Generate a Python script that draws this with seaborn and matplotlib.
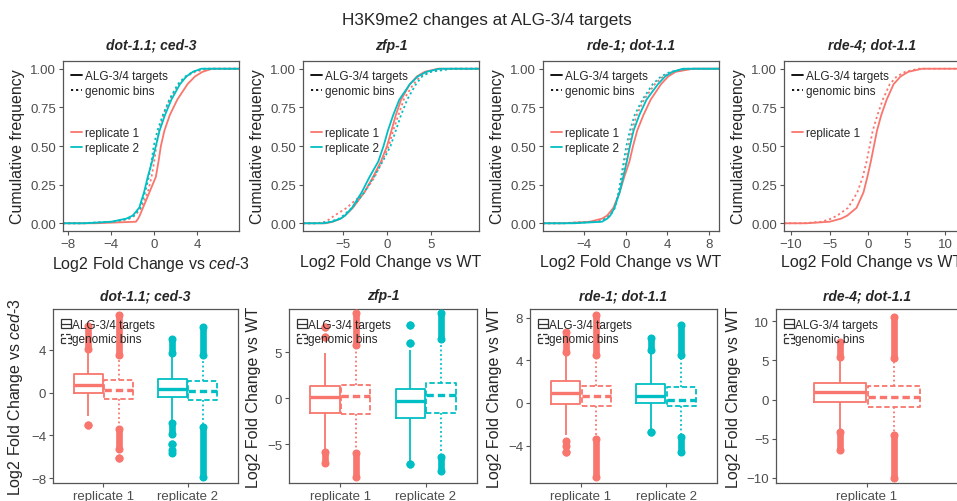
import matplotlib
matplotlib.use("Agg")
import matplotlib.pyplot as plt
import seaborn as sns
import pandas as pd
from matplotlib.lines import Line2D
from matplotlib.patches import Patch
from matplotlib.legend_handler import HandlerTuple

# ---- data ----
panels = ["dot-1.1; ced-3", "zfp-1", "rde-1; dot-1.1", "rde-4; dot-1.1"]
references = ["ced-3", "WT", "WT", "WT"]
replicates = ["replicate 1", "replicate 2"]
sets = ["ALG-3/4 targets", "genomic bins"]
rep_colors = {"replicate 1": "#F8766D", "replicate 2": "#00BFC4"}

# cumulative frequency levels and the log2FC reached at each level
cdf_levels = [0, .01, .03, .05, .1, .2, .3, .4, .5, .6, .7, .8, .9, .95, .98, 1]
# order of curves: rep1 targets, rep1 bins, rep2 targets, rep2 bins
ced3_cdf = [
    [-5.5, -1.7, -1.5, -1.35, -1.05, -0.45, 0.15, 0.4, 0.62, 0.95, 1.45, 2.15, 3.1, 3.8, 4.5, 5.4],
    [-6.5, -3.5, -2.3, -1.8, -1.2, -0.6, -0.25, 0.0, 0.2, 0.45, 0.85, 1.45, 2.3, 3.0, 3.8, 5.0],
    [-6.5, -4.0, -2.6, -2.0, -1.4, -0.95, -0.6, -0.2, 0.15, 0.5, 1.0, 1.6, 2.4, 3.0, 3.6, 4.4],
    [-7.0, -3.8, -2.4, -1.9, -1.3, -0.85, -0.5, -0.25, -0.05, 0.3, 0.8, 1.4, 2.2, 2.9, 3.6, 4.5],
]
zfp1_cdf = [
    [-7.0, -6.2, -5.3, -4.8, -3.9, -2.6, -1.6, -0.7, 0.0, 0.5, 1.0, 1.6, 2.6, 3.4, 4.3, 5.8],
    [-8.0, -7.0, -6.5, -6.0, -4.6, -2.6, -1.4, -0.6, 0.2, 0.7, 1.3, 1.9, 3.0, 3.8, 4.8, 7.0],
    [-7.3, -6.3, -5.3, -4.8, -4.0, -2.9, -2.0, -1.0, -0.4, 0.1, 0.7, 1.4, 2.6, 3.5, 4.5, 6.0],
    [-8.0, -6.5, -5.5, -5.0, -4.0, -2.6, -1.5, -0.5, 0.4, 1.0, 1.6, 2.3, 3.3, 4.0, 5.0, 7.5],
]
rde1_cdf = [
    [-6.0, -3.5, -2.3, -1.8, -1.2, -0.6, -0.15, 0.35, 0.7, 1.1, 1.7, 2.4, 3.4, 4.1, 4.8, 6.5],
    [-6.5, -2.8, -2.0, -1.6, -1.1, -0.65, -0.35, 0.0, 0.25, 0.6, 1.05, 1.75, 2.8, 3.6, 4.5, 6.5],
    [-5.0, -2.3, -1.8, -1.5, -1.1, -0.6, -0.25, 0.1, 0.4, 0.75, 1.3, 2.0, 3.1, 3.8, 4.5, 5.5],
    [-6.0, -2.6, -1.9, -1.5, -1.05, -0.7, -0.45, -0.2, 0.05, 0.4, 0.85, 1.6, 2.6, 3.4, 4.3, 6.0],
]
rde4_cdf = [
    [-8.0, -5.0, -3.5, -2.7, -1.5, -0.6, -0.1, 0.35, 0.75, 1.15, 1.7, 2.4, 3.3, 4.2, 5.2, 7.0],
    [-8.5, -6.0, -4.8, -4.0, -2.6, -1.4, -0.7, -0.2, 0.2, 0.6, 1.2, 1.9, 2.8, 3.7, 4.8, 6.5],
]

# boxplots: [lower whisker, Q1, median, Q3, upper whisker]
ced3_box = [[-2.2, 0.0, 0.71, 1.71, 4.0], [-3.3, -0.63, 0.21, 1.18, 3.4],
            [-2.65, -0.41, 0.37, 1.24, 3.58], [-3.1, -0.72, 0.15, 1.09, 3.4]]
zfp1_box = [[-5.6, -1.64, 0.15, 1.35, 4.9], [-5.8, -1.68, 0.25, 1.46, 5.7],
            [-6.9, -2.19, -0.29, 0.99, 5.2], [-6.3, -1.57, 0.37, 1.64, 6.3]]
rde1_box = [[-3.0, -0.07, 0.94, 2.04, 4.7], [-3.3, -0.32, 0.62, 1.63, 4.4],
            [-2.6, 0.0, 0.69, 1.73, 4.87], [-3.15, -0.32, 0.31, 1.47, 4.4]]
rde4_box = [[-4.0, -0.26, 0.95, 2.1, 5.46], [-4.4, -0.9, 0.3, 1.68, 5.25]]

# outliers as (from, to) runs of points
ced3_out = [[(4.1, 6.2), (-3.06, -3.06)], [(3.5, 7.2), (-3.4, -5.3), (-6.1, -6.1)],
            [(3.7, 5.0), (-2.8, -3.9), (-4.76, -4.76), (-5.4, -5.6)], [(3.5, 6.1), (-3.2, -7.9)]]
zfp1_out = [[(6.6, 6.6), (7.7, 7.7), (-5.8, -7.0)], [(5.8, 9.2), (-5.9, -8.6)],
            [(6.0, 6.0), (7.9, 7.9), (-7.1, -7.1)], [(6.4, 9.2), (-6.4, -7.9)]]
rde1_out = [[(4.8, 6.6), (-3.6, -4.0), (-4.6, -4.6)], [(4.5, 8.2), (-3.4, -6.9)],
            [(4.95, 6.1), (-2.75, -2.75)], [(4.5, 7.3), (-3.2, -4.6)]]
rde4_out = [[(5.5, 7.4), (-4.1, -6.45)], [(5.3, 10.6), (-4.5, -10.1)]]

cdf_xlim = [(-8.5, 7.9), (-9.6, 10.5), (-8.0, 9.0), (-10.9, 11.9)]
cdf_xticks = [[-8, -4, 0, 4], [-5, 0, 5], [-4, 0, 4, 8], [-10, -5, 0, 5, 10]]
box_ylim = [(-8.44, 7.8), (-9.2, 9.67), (-7.5, 8.8), (-10.7, 11.6)]
box_yticks = [[-8, -4, 0, 4], [-5, 0, 5], [-4, 0, 4, 8], [-10, -5, 0, 5, 10]]
panel_reps = [replicates, replicates, replicates, replicates[:1]]

curve_keys = [(r, s) for r in replicates for s in sets]

# ---- tidy tables ----
cdf_rows, box_rows = [], []
for i, (panel, curves, boxes) in enumerate(zip(
        panels, [ced3_cdf, zfp1_cdf, rde1_cdf, rde4_cdf],
        [ced3_box, zfp1_box, rde1_box, rde4_box])):
    for (rep, s), xs in zip(curve_keys, curves):
        # pad the ecdf out to the panel edges like stat_ecdf does
        pts = [(cdf_xlim[i][0], 0.0)] + list(zip(xs, cdf_levels)) + [(cdf_xlim[i][1], 1.0)]
        for x, p in pts:
            cdf_rows.append(dict(panel=panel, replicate=rep, set=s, lfc=x, freq=p))
    for (rep, s), stats in zip(curve_keys, boxes):
        for v in stats:
            box_rows.append(dict(panel=panel, replicate=rep, set=s, value=v))
cdf_df = pd.DataFrame(cdf_rows)
box_df = pd.DataFrame(box_rows)

# ---- styling ----
sns.set_theme(style="white")
plt.rcParams["font.family"] = ["Liberation Sans", "DejaVu Sans"]
plt.rcParams["mathtext.fontset"] = "custom"
plt.rcParams["mathtext.rm"] = "Liberation Sans"
plt.rcParams["mathtext.it"] = "Liberation Sans:italic"

DOT = (1.2, 1.6)
BOX_W = 0.72


def ref_label(ref):
    if ref == "WT":
        return "Log2 Fold Change vs WT"
    return r"Log2 Fold Change vs $\mathit{ced}$-3"


def style_axes(ax):
    for sp in ax.spines.values():
        sp.set_color("#555555")
        sp.set_linewidth(0.9)
    ax.tick_params(direction="out", length=3, width=0.8, color="#555555",
                   labelcolor="#4d4d4d", labelsize=9.5, pad=2,
                   bottom=True, left=True)
    ax.grid(False)


fig = plt.figure(figsize=(9.57, 5.02), dpi=100)
W, H = 957, 502
top_left = [63, 303, 543, 784]
bot_left = [53, 289, 530, 776]
bot_width = [185, 188, 187, 182]

fig.text(487 / W, 1 - 20 / H, "H3K9me2 changes at ALG-3/4 targets",
         ha="center", va="center", fontsize=12.3)

for i, panel in enumerate(panels):
    # ---------- cumulative distributions ----------
    ax = fig.add_axes([top_left[i] / W, 1 - 232 / H, 176 / W, 170 / H])
    sub = cdf_df[cdf_df.panel == panel]
    sns.lineplot(data=sub, x="lfc", y="freq", hue="replicate", style="set",
                 units="set", estimator=None, palette=rep_colors,
                 dashes={sets[0]: "", sets[1]: DOT}, linewidth=1.3,
                 legend=False, sort=False, ax=ax)
    ax.set_xlim(cdf_xlim[i])
    ax.set_ylim(-0.05, 1.05)
    ax.set_xticks(cdf_xticks[i])
    ax.set_yticks([0, 0.25, 0.5, 0.75, 1.0])
    ax.set_yticklabels(["0.00", "0.25", "0.50", "0.75", "1.00"])
    ax.set_xlabel(ref_label(references[i]), fontsize=11.5, labelpad=3)
    ax.set_ylabel("Cumulative frequency", fontsize=11.5, labelpad=4)
    ax.set_title(panel, fontsize=10, fontweight="bold", fontstyle="italic", pad=9)
    style_axes(ax)

    lt = [Line2D([], [], color="black", lw=1.3),
          Line2D([], [], color="black", lw=1.3, dashes=DOT)]
    leg1 = ax.legend(lt, sets, loc="upper left", bbox_to_anchor=(-0.01, 1.0),
                     frameon=False, fontsize=8.5, handlelength=1.0,
                     handletextpad=0.2, labelspacing=0.25, borderpad=0.3)
    ax.add_artist(leg1)
    reps_here = panel_reps[i]
    col = [Line2D([], [], color=rep_colors[r], lw=1.3) for r in reps_here]
    ax.legend(col, reps_here, loc="upper left", bbox_to_anchor=(-0.01, 0.665),
              frameon=False, fontsize=8.5, handlelength=1.0,
              handletextpad=0.2, labelspacing=0.25, borderpad=0.3)

    # ---------- boxplots ----------
    ax = fig.add_axes([bot_left[i] / W, 1 - 484 / H, bot_width[i] / W, 174 / H])
    sub = box_df[box_df.panel == panel]
    outs = [ced3_out, zfp1_out, rde1_out, rde4_out][i]
    k = 0
    for ri, rep in enumerate(reps_here):
        for si, s in enumerate(sets):
            one = sub[(sub.replicate == rep) & (sub.set == s)]
            dashed = si == 1
            sns.boxplot(data=one, x="replicate", y="value", hue="set",
                        order=reps_here, hue_order=sets,
                        palette={sets[0]: rep_colors[rep], sets[1]: rep_colors[rep]},
                        dodge=True, fill=False, width=BOX_W, gap=0.05,
                        whis=(0, 100), showcaps=False, showfliers=False,
                        linewidth=1.3,
                        boxprops=dict(linestyle=(0, (3, 1.5)) if dashed else "-"),
                        whiskerprops=dict(linestyle=(0, (1, 1.5)) if dashed else "-"),
                        medianprops=dict(linewidth=2.4,
                                         linestyle=(0, (2.2, 1.2)) if dashed else "-"),
                        legend=False, ax=ax)
            xpos = ri + (-BOX_W / 4 if si == 0 else BOX_W / 4)
            for lo, hi in outs[k]:
                ax.plot([xpos, xpos], [lo, hi], color=rep_colors[rep], lw=4.8,
                        marker="o", ms=4.8, solid_capstyle="round", zorder=3)
            k += 1
    ax.set_xlim(-0.6, len(reps_here) - 1 + 0.6)
    ax.set_ylim(box_ylim[i])
    ax.set_yticks(box_yticks[i])
    ax.set_xlabel("")
    ax.set_ylabel(ref_label(references[i]), fontsize=11.5, labelpad=4)
    ax.set_title(panel, fontsize=10, fontweight="bold", fontstyle="italic", pad=7)
    style_axes(ax)

    bh = [(Patch(facecolor="white", edgecolor="#333333", lw=0.9),
           Line2D([], [], color="#333333", lw=0.9)),
          (Patch(facecolor="white", edgecolor="#333333", lw=0.9, linestyle="--"),
           Line2D([], [], color="#333333", lw=0.9, linestyle="--"))]
    ax.legend(bh, sets, loc="upper left", bbox_to_anchor=(-0.01, 1.0),
              handler_map={tuple: HandlerTuple(ndivide=1)}, frameon=False,
              fontsize=8.5, handlelength=0.8, handleheight=0.8,
              handletextpad=0.1, labelspacing=0.2, borderpad=0.35)

fig.savefig("out.png", dpi=100)
